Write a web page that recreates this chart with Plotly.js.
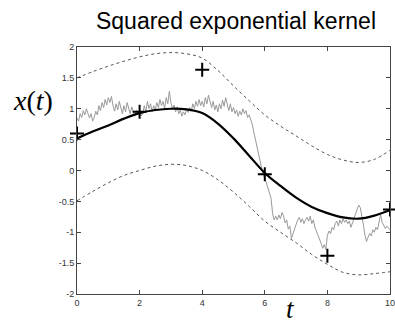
<!DOCTYPE html>
<html>
<head>
<meta charset="utf-8">
<script src="https://cdn.plot.ly/plotly-3.0.1.min.js"></script>
<style>html,body{margin:0;padding:0;background:#fff;}#chart{width:395px;height:324px;}</style>
</head>
<body>
<div id="chart"></div>
<script>
// Observations (+ markers)
const obsT = [0, 2, 4, 6, 8, 10];
const obsX = [0.6, 0.95, 1.63, -0.06, -1.38, -0.63];

// Posterior mean and confidence bounds
const gridT = [0,0.5,1,1.5,2,2.5,3,3.5,4,4.5,5,5.5,6,6.5,7,7.5,8,8.5,9,9.5,10];
const meanX = [0.52,0.63,0.73,0.84,0.93,0.98,1.0,0.99,0.93,0.76,0.52,0.24,-0.04,-0.25,-0.44,-0.59,-0.69,-0.76,-0.78,-0.73,-0.64];
const upperX = [1.5,1.6,1.69,1.77,1.84,1.89,1.91,1.89,1.82,1.62,1.37,1.13,0.9,0.72,0.56,0.4,0.26,0.17,0.13,0.18,0.33];
const lowerX = [-0.49,-0.34,-0.2,-0.08,0.0,0.07,0.1,0.08,0.0,-0.15,-0.35,-0.58,-0.82,-1.0,-1.17,-1.36,-1.52,-1.65,-1.69,-1.67,-1.64];

// Sample path (gray, rough)
const pathT = [];
for (let i = 0; i <= 200; i++) pathT.push(i * 0.05);
const pathX = [
 0.85,0.80,0.92,0.86,0.97,0.90,1.00,0.93,0.85,0.92,
 0.80,0.86,0.96,0.90,1.05,0.97,1.10,1.02,1.15,1.06,
 1.18,1.10,1.20,1.05,0.96,1.08,0.98,1.12,1.02,0.92,
 1.05,0.95,1.10,1.00,0.92,1.03,0.94,0.88,0.98,0.90,
 0.97,0.88,0.92,1.05,0.95,1.12,1.00,1.08,0.95,1.05,
 0.98,1.10,1.02,1.15,1.05,1.12,1.00,1.18,1.08,1.28,
 1.10,1.00,1.06,0.95,1.03,0.92,0.98,0.88,0.95,0.90,
 1.00,0.94,1.02,0.96,1.08,1.00,1.12,1.04,1.15,1.05,
 1.12,1.03,1.18,1.08,1.22,1.10,1.02,1.12,0.98,1.06,
 0.95,1.08,1.00,1.14,1.04,1.18,1.06,0.97,1.08,0.95,
 1.02,0.92,0.98,0.88,0.96,0.90,1.00,0.92,0.97,0.86,
 0.90,0.82,0.75,0.62,0.50,0.38,0.25,0.15,0.02,-0.08,
 -0.12,-0.20,-0.26,-0.35,-0.45,-0.70,-0.80,-0.74,-0.80,-0.72,
 -0.78,-0.68,-0.74,-0.85,-0.80,-0.95,-0.90,-1.10,-1.02,-0.95,
 -0.88,-0.80,-0.76,-0.84,-0.78,-0.86,-0.80,-0.76,-0.82,-0.74,
 -0.86,-0.80,-0.92,-0.98,-1.06,-1.12,-1.18,-1.26,-1.20,-1.28,
 -1.05,-0.98,-1.02,-0.92,-0.96,-0.86,-0.82,-0.90,-0.80,-0.86,
 -0.78,-0.84,-0.80,-0.86,-0.82,-0.92,-0.86,-0.78,-0.70,-0.62,
 -0.56,-0.60,-0.72,-0.88,-1.05,-1.15,-1.08,-1.02,-1.06,-0.96,
 -1.00,-0.92,-0.96,-0.82,-0.72,-0.84,-0.88,-0.94,-0.90,-0.93,
 -0.96
];

// Tick labels
const xTickVals = [0, 2, 4, 6, 8, 10];
const xTickText = ['0', '2', '4', '6', '8', '10'];
const yTickVals = [-2, -1.5, -1, -0.5, 0, 0.5, 1, 1.5, 2];
const yTickText = ['-2', '-1.5', '-1', '-0.5', '0', '0.5', '1', '1.5', '2'];

const traces = [
  {x: pathT, y: pathX, mode: 'lines', line: {color: '#999999', width: 1}, hoverinfo: 'skip'},
  {x: gridT, y: upperX, mode: 'lines', line: {color: '#555555', width: 1, dash: 'dot', shape: 'spline'}},
  {x: gridT, y: lowerX, mode: 'lines', line: {color: '#555555', width: 1, dash: 'dot', shape: 'spline'}},
  {x: gridT, y: meanX, mode: 'lines', line: {color: '#000000', width: 2.2, shape: 'spline'}},
  {x: obsT, y: obsX, mode: 'markers', marker: {symbol: 'cross-thin', size: 10, color: '#000', line: {color: '#000', width: 2}}, cliponaxis: false}
];

const axisCommon = {
  showgrid: false, zeroline: false, showline: true, linecolor: '#444', linewidth: 1,
  mirror: 'allticks', ticks: 'inside', ticklen: 4, tickcolor: '#444', tickwidth: 1,
  tickfont: {family: 'Liberation Sans, Arial, sans-serif', size: 9, color: '#333'},
  tickmode: 'array', fixedrange: true, ticklabeloverflow: 'allow'
};

const layout = {
  width: 395, height: 324,
  margin: {l: 77, r: 5, t: 47, b: 30},
  paper_bgcolor: '#ffffff', plot_bgcolor: '#ffffff',
  showlegend: false,
  title: {text: 'Squared exponential kernel', font: {family: 'Liberation Sans, Arial, sans-serif', size: 23, color: '#000'},
          x: 236/395, xanchor: 'center', xref: 'container', y: 1 - 21/324, yref: 'container', yanchor: 'middle'},
  xaxis: Object.assign({}, axisCommon, {range: [0, 10], tickvals: xTickVals, ticktext: xTickText}),
  yaxis: Object.assign({}, axisCommon, {range: [-2, 2], tickvals: yTickVals, ticktext: yTickText}),
  annotations: [
    {text: '<i>x</i>(<i>t</i>)', xref: 'paper', yref: 'paper', x: -0.14, y: 0.785, xanchor: 'center', yanchor: 'middle',
     showarrow: false, font: {family: 'Liberation Serif, Times New Roman, serif', size: 28, color: '#000'}},
    {text: '<i>t</i>', xref: 'paper', yref: 'paper', x: (290-77)/313, y: -0.06, xanchor: 'center', yanchor: 'middle',
     showarrow: false, font: {family: 'Liberation Serif, Times New Roman, serif', size: 27, color: '#000'}}
  ]
};

Plotly.newPlot('chart', traces, layout, {displayModeBar: false, staticPlot: true});
</script>
</body>
</html>
